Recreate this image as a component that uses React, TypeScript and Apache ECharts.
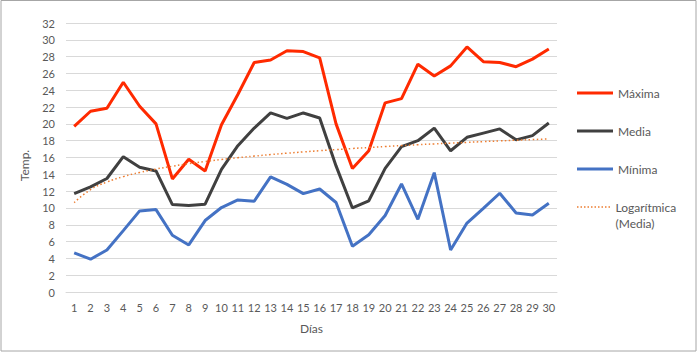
import React, { useEffect, useRef } from "react";
import * as echarts from "echarts";

const days = Array.from({ length: 30 }, (_, i) => String(i + 1));
const maxima = [19.7, 21.5, 21.85, 24.95, 22.1, 20.0, 13.45, 15.8, 14.4, 19.9, 23.5, 27.3, 27.6, 28.7, 28.6, 27.85, 20.0, 14.7, 16.8, 22.5, 23.0, 27.1, 25.7, 26.9, 29.15, 27.4, 27.3, 26.8, 27.7, 28.9];
const media = [11.7, 12.5, 13.5, 16.1, 14.85, 14.4, 10.4, 10.3, 10.45, 14.6, 17.4, 19.5, 21.3, 20.65, 21.3, 20.7, 15.0, 10.0, 10.85, 14.7, 17.3, 18.0, 19.5, 16.8, 18.4, 18.9, 19.4, 18.1, 18.6, 20.1];
const minima = [4.65, 3.9, 5.0, 7.3, 9.65, 9.8, 6.75, 5.6, 8.5, 10.05, 10.95, 10.8, 13.7, 12.8, 11.7, 12.25, 10.65, 5.45, 6.8, 9.1, 12.85, 8.65, 14.2, 5.0, 8.2, 9.95, 11.75, 9.4, 9.15, 10.55];

// Logarithmic trendline fitted to "Media" (least squares on ln(x))
function logTrend(values: number[]): number[] {
  const n = values.length;
  const xs = values.map((_, i) => Math.log(i + 1));
  const mx = xs.reduce((a, b) => a + b, 0) / n;
  const my = values.reduce((a, b) => a + b, 0) / n;
  let sxy = 0, sxx = 0;
  for (let i = 0; i < n; i++) {
    sxy += (xs[i] - mx) * (values[i] - my);
    sxx += (xs[i] - mx) * (xs[i] - mx);
  }
  const a = sxy / sxx;
  const b = my - a * mx;
  return xs.map((x) => +(a * x + b).toFixed(3));
}
const trend = logTrend(media);

const FONT = "Lato, 'Noto Sans', sans-serif";
const TXT = "#595959";

const SOLID_ICON = "path://M0,0L36,0L36,3L0,3Z";
let dots = "";
for (let x = 0; x < 34; x += 3.5) dots += `M${x},0h1.5v1.5h-${1.5}Z`;
const DOT_ICON = "path://" + dots;

export default function App() {
  const ref = useRef<HTMLDivElement>(null);
  useEffect(() => {
    if (!ref.current) return;
    const chart = echarts.init(ref.current, undefined, { renderer: "svg" });
    chart.setOption({
      animation: false,
      backgroundColor: "#ffffff",
      textStyle: { fontFamily: FONT, color: TXT },
      grid: { left: 66, right: 140, top: 23, bottom: 60 },
      xAxis: {
        type: "category",
        data: days,
        boundaryGap: true,
        name: "Días",
        nameLocation: "middle",
        nameGap: 30,
        nameTextStyle: { fontFamily: FONT, fontSize: 12, color: TXT },
        axisLine: { show: true, lineStyle: { color: "#d9d9d9", width: 1 } },
        axisTick: { show: false },
        axisLabel: { fontFamily: FONT, fontSize: 11, color: TXT, margin: 10, interval: 0 },
      },
      yAxis: {
        type: "value",
        min: 0,
        max: 32,
        interval: 2,
        name: "Temp.",
        nameLocation: "middle",
        nameGap: 36,
        nameRotate: 90,
        nameTextStyle: { fontFamily: FONT, fontSize: 12, color: TXT, padding: [0, 16, 0, 0] },
        axisLine: { show: false },
        axisTick: { show: false },
        axisLabel: { fontFamily: FONT, fontSize: 11, color: TXT, margin: 11 },
        splitLine: { lineStyle: { color: "#d9d9d9", width: 1 } },
      },
      legend: [
        {
          orient: "vertical",
          left: 577,
          top: 85,
          padding: 0,
          itemWidth: 36,
          itemHeight: 3,
          itemGap: 22,
          data: [
            { name: "Máxima", icon: SOLID_ICON },
            { name: "Media", icon: SOLID_ICON },
            { name: "Mínima", icon: SOLID_ICON },
          ],
          textStyle: { fontFamily: FONT, fontSize: 12, color: TXT, lineHeight: 16 },
        },
        {
          orient: "vertical",
          left: 577,
          top: 183,
          padding: 0,
          itemWidth: 34,
          itemHeight: 1.5,
          data: [{ name: "Logarítmica (Media)", icon: DOT_ICON }],
          formatter: () => " \nLogarítmica\n(Media)",
          textStyle: { fontFamily: FONT, fontSize: 12, color: TXT, lineHeight: 16 },
        },
      ],
      series: [
        {
          name: "Máxima",
          type: "line",
          data: maxima,
          symbol: "none",
          lineStyle: { color: "#FF2A00", width: 3 },
          itemStyle: { color: "#FF2A00" },
          z: 4,
        },
        {
          name: "Media",
          type: "line",
          data: media,
          symbol: "none",
          lineStyle: { color: "#404040", width: 3 },
          itemStyle: { color: "#404040" },
          z: 3,
        },
        {
          name: "Mínima",
          type: "line",
          data: minima,
          symbol: "none",
          lineStyle: { color: "#4472C4", width: 3 },
          itemStyle: { color: "#4472C4" },
          z: 3,
        },
        {
          name: "Logarítmica (Media)",
          type: "line",
          data: trend,
          symbol: "none",
          smooth: true,
          lineStyle: { color: "#ED7D31", width: 1.5, type: [1.5, 2.5] },
          itemStyle: { color: "#ED7D31" },
          z: 5,
        },
      ],
      graphic: [
        {
          type: "rect",
          shape: { x: 1, y: 0.5, width: 695, height: 350.5 },
          style: { fill: "none", stroke: "#a6a6a6", lineWidth: 1 },
          silent: true,
          z: 100,
        },
      ],
    });
    return () => chart.dispose();
  }, []);
  return (
    <div
      ref={ref}
      style={{ position: "absolute", left: 0, top: 0, width: 697, height: 352 }}
    />
  );
}
